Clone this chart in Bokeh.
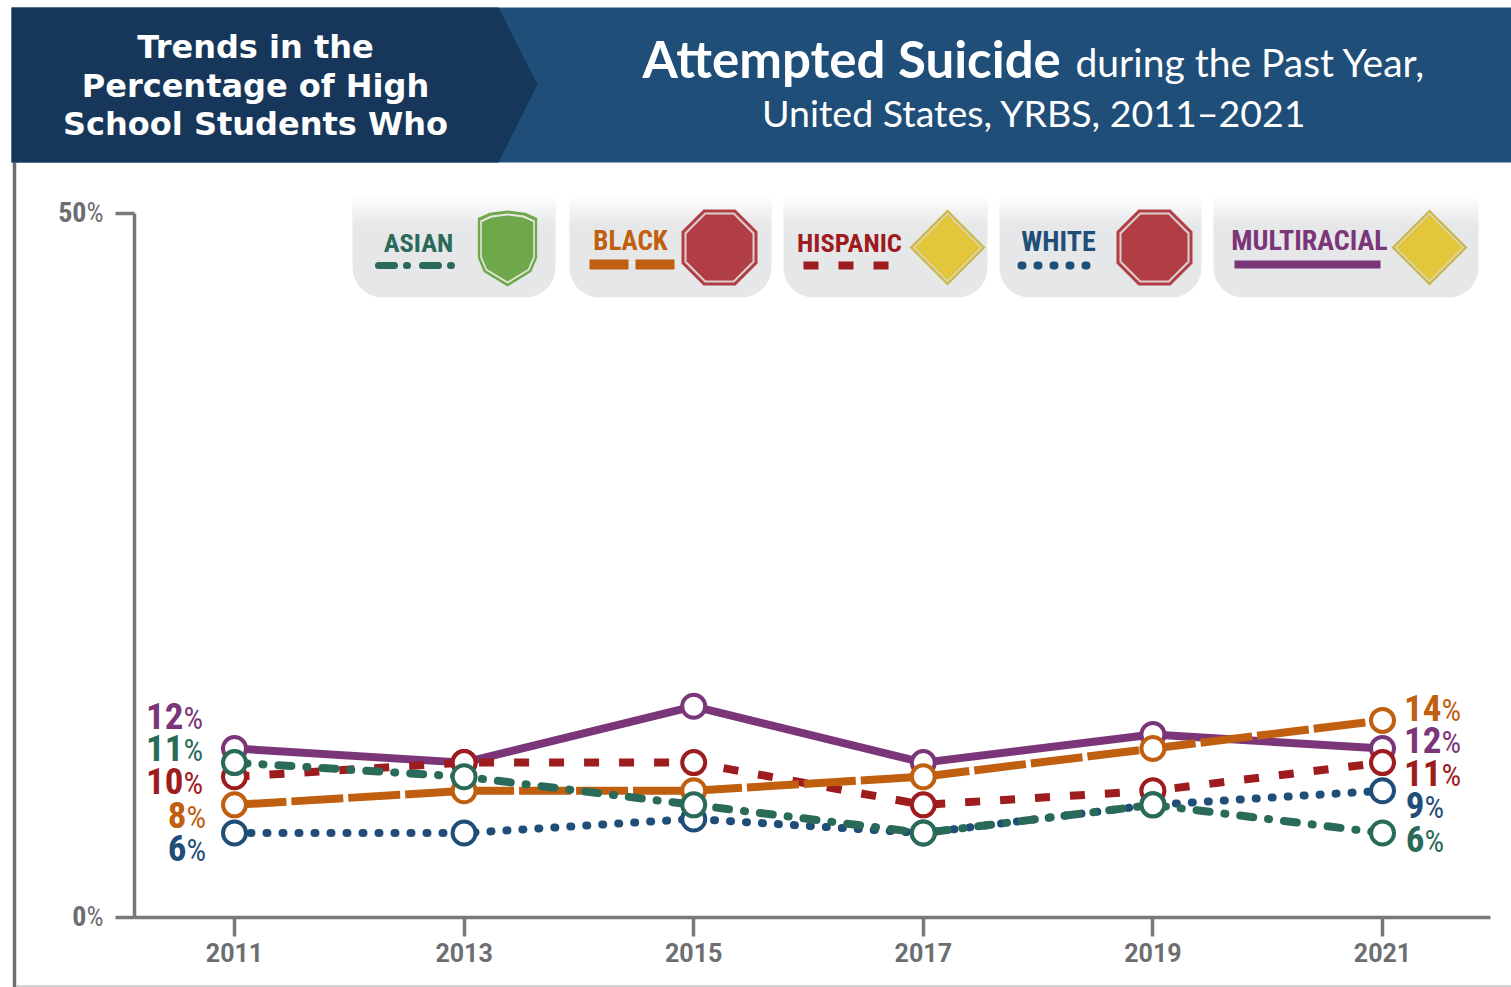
from math import cos, sin, pi
from bokeh.core.properties import value
from bokeh.embed import file_html
from bokeh.models import FixedTicker, LinearAxis, Range1d
from bokeh.plotting import figure
from bokeh.resources import INLINE

# survey years and prevalence (%) by group
years = [2011, 2013, 2015, 2017, 2019, 2021]
multiracial = [12, 11, 15, 11, 13, 12]
hispanic = [10, 11, 11, 8, 9, 11]
white = [6, 6, 7, 6, 8, 9]
black = [8, 9, 9, 10, 12, 14]
asian = [11, 10, 8, 6, 8, 6]
pct_ticks = [0, 50]

NARROW = "Roboto Condensed, Arial Narrow, Roboto"
GREY = "#6d6e71"
NAVY = "#16365a"
BLUE = "#1f4e79"
GREEN = "#2a6a58"
ORANGE = "#c05f10"
RED = "#9e1b1e"
PURPLE = "#7b3579"

W, H = 1511, 987
PX_PER_YEAR = (1382 - 234) / 10
PX_PER_PCT = (917 - 213) / 50


def year_at(px):
    return 2011 + (px - 234) / PX_PER_YEAR


def pct_at(py):
    return (917 - py) / PX_PER_PCT


p = figure(
    width=W, height=H, output_backend="svg", toolbar_location=None,
    x_range=Range1d(year_at(0), year_at(W)),
    y_range=Range1d(pct_at(H), pct_at(0)),
    x_axis_type=None, y_axis_type=None,
    min_border=0, min_border_left=0, min_border_right=0,
    min_border_top=0, min_border_bottom=0,
    outline_line_color=None, background_fill_color="white",
)
p.extra_x_ranges["page"] = Range1d(0, W)
p.extra_y_ranges["page"] = Range1d(H, 0)
PAGE = dict(x_range_name="page", y_range_name="page")


def put_text(x, y, text, color, size, font, style="normal", align="left"):
    p.text([x], [y], text=[text], text_color=color, text_font=value(font),
           text_font_size=f"{size}px", text_font_style=style, text_align=align,
           text_baseline="middle", **PAGE)


# page frame
p.line([14, 14], [162, H], line_color=GREY, line_width=3.5, **PAGE)
p.line([16, W], [985.5, 985.5], line_color="#c4c5c7", line_width=1.5, **PAGE)

# header band
p.patch([11, W, W, 11], [7, 7, 162, 162], fill_color=BLUE, line_color=None, **PAGE)
p.patch([11, 498, 537, 498, 11], [7, 7, 84, 162, 162], fill_color=NAVY, line_color=None, **PAGE)
for line, y in zip(["Trends in the", "Percentage of High", "School Students Who"], [46, 85, 123]):
    put_text(255, y, line, "white", 32, "DejaVu Sans", "bold", "center")
put_text(642, 58, "Attempted Suicide", "white", 51, "Lato", "bold")
put_text(1075, 61, "during the Past Year,", "white", 39, "Lato")
put_text(1034, 112, "United States, YRBS, 2011–2021", "white", 37.5, "Lato", "normal", "center")


# legend tiles: a soft fade at the top, rounded bottom corners
def tile(x0, x1, top=195, bottom=297, fade=30, r=30):
    low, high = (0xe6, 0xe7, 0xe8), (255, 255, 255)
    lefts, rights, tops, bottoms, colors = [], [], [], [], []
    for i in range(fade):
        t = i / fade
        c = tuple(round(h + (l - h) * t) for l, h in zip(low, high))
        lefts.append(x0)
        rights.append(x1)
        tops.append(top + i)
        bottoms.append(top + i + 2)
        colors.append("#%02x%02x%02x" % c)
    p.quad(left=lefts, right=rights, top=tops, bottom=bottoms, fill_color=colors, line_color=None, **PAGE)
    xs, ys = [x0, x1], [top + fade, top + fade]
    for i in range(11):
        a = pi / 2 * i / 10
        xs.append(x1 - r + r * cos(a))
        ys.append(bottom - r + r * sin(a))
    for i in range(11):
        a = pi / 2 + pi / 2 * i / 10
        xs.append(x0 + r + r * cos(a))
        ys.append(bottom - r + r * sin(a))
    p.patch(xs, ys, fill_color="#e6e7e8", line_color=None, **PAGE)


def nested(shape, cx, cy, radius, rim, ring, fill):
    for k, color in [(0, rim), (3, ring), (5, fill)]:
        xs, ys = shape(cx, cy, radius - k)
        p.patch(xs, ys, fill_color=color, line_color=None, **PAGE)


def octagon(cx, cy, r):
    q = r * 0.42
    return ([cx - q, cx + q, cx + r, cx + r, cx + q, cx - q, cx - r, cx - r],
            [cy - r, cy - r, cy - q, cy + q, cy + r, cy + r, cy + q, cy - q])


def diamond(cx, cy, r):
    return ([cx, cx + r, cx, cx - r], [cy - r, cy, cy + r, cy])


def shield(cx, cy, r):
    w = r * 0.78
    return ([cx - w * 0.6, cx, cx + w * 0.6, cx + w, cx + w, cx + w * 0.8, cx, cx - w * 0.8, cx - w, cx - w],
            [cy - r * 0.94, cy - r, cy - r * 0.94, cy - r * 0.8, cy + r * 0.25, cy + r * 0.62, cy + r, cy + r * 0.62, cy + r * 0.25, cy - r * 0.8])


tile(352, 555)
tile(569, 771)
tile(783, 987)
tile(999, 1201)
tile(1213, 1478)

nested(shield, 507, 248, 38, "#6fa84a", "#e4e8e0", "#6fa84a")
nested(octagon, 719, 247, 38, "#b13e45", "#ddd0d1", "#b13e45")
nested(diamond, 947, 247, 38, "#cdb63f", "#d8d6ca", "#e2c73c")
nested(octagon, 1154, 247, 38, "#b13e45", "#ddd0d1", "#b13e45")
nested(diamond, 1429, 247, 38, "#cdb63f", "#d8d6ca", "#e2c73c")

put_text(418, 242, "ASIAN", GREEN, 26.5, NARROW, "bold", "center")
put_text(630, 240, "BLACK", ORANGE, 27, NARROW, "bold", "center")
put_text(849, 242, "HISPANIC", RED, 26.5, NARROW, "bold", "center")
put_text(1058, 241, "WHITE", BLUE, 28, NARROW, "bold", "center")
put_text(1309, 240, "MULTIRACIAL", PURPLE, 28, NARROW, "bold", "center")

p.line([378, 452], [265, 265], line_color=GREEN, line_width=7, line_cap="round", line_dash="16 12 1 15", **PAGE)
p.line([589, 674], [264, 264], line_color=ORANGE, line_width=10, line_dash="39 7", **PAGE)
p.line([803, 889], [265, 265], line_color=RED, line_width=8, line_dash="15 20", **PAGE)
p.line([1021, 1086], [265, 265], line_color=BLUE, line_width=8, line_cap="round", line_dash="1 15", **PAGE)
p.line([1234, 1380], [264, 264], line_color=PURPLE, line_width=8, **PAGE)

# trend lines, back to front, each with hollow markers
series = [
    (multiracial, PURPLE, dict(line_width=8)),
    (hispanic, RED, dict(line_width=8, line_dash="15 20")),
    (white, BLUE, dict(line_width=8, line_cap="round", line_dash="1 15")),
    (black, ORANGE, dict(line_width=8, line_dash="52 5")),
    (asian, GREEN, dict(line_width=8, line_cap="round", line_dash="13 15 1 15")),
]
for vals, color, style in series:
    p.line(years, vals, line_color=color, **style)
    p.scatter(years, vals, size=23, fill_color="white", line_color=color, line_width=4)

# axes; the percent tick labels are drawn as number plus smaller % sign below
xaxis = LinearAxis(fixed_location=0, bounds=(year_at(134), year_at(1490)),
                   ticker=FixedTicker(ticks=years))
yaxis = LinearAxis(fixed_location=year_at(134), bounds=(0, 50),
                   ticker=FixedTicker(ticks=pct_ticks),
                   major_label_overrides={t: "" for t in pct_ticks})
for axis in (xaxis, yaxis):
    axis.axis_line_color = "#77787b"
    axis.axis_line_width = 3.5
    axis.major_tick_line_color = "#77787b"
    axis.major_tick_line_width = 3.5
    axis.major_tick_in = 0
    axis.minor_tick_line_color = None
    axis.major_label_text_color = GREY
    axis.major_label_text_font_style = "bold"
xaxis.major_tick_out = 19
xaxis.major_label_standoff = 6
xaxis.major_label_text_font = "Roboto"
xaxis.major_label_text_font_size = "25px"
yaxis.major_tick_out = 19
p.add_layout(xaxis, "below")
p.add_layout(yaxis, "left")
for tick, y in zip(pct_ticks, [915, 211]):
    put_text(86, y, str(tick), GREY, 28, NARROW, "bold", "right")
    put_text(86, y + 1, "%", GREY, 27, NARROW, "normal")


# first and last value of each series, stacked beside the line ends
def end_label(x, y, number, color):
    put_text(x, y, str(number), color, 37, NARROW, "bold", "right")
    put_text(x, y + 3, "%", color, 31, NARROW, "normal", "left")


end_label(183, 715, multiracial[0], PURPLE)
end_label(183, 747, asian[0], GREEN)
end_label(183, 780, hispanic[0], RED)
end_label(186, 814, black[0], ORANGE)
end_label(186, 847, white[0], BLUE)

end_label(1441, 707, black[-1], ORANGE)
end_label(1441, 739, multiracial[-1], PURPLE)
end_label(1441, 772, hispanic[-1], RED)
end_label(1424, 804, white[-1], BLUE)
end_label(1424, 838, asian[-1], GREEN)

open("out.html", "w").write(file_html(p, INLINE))
